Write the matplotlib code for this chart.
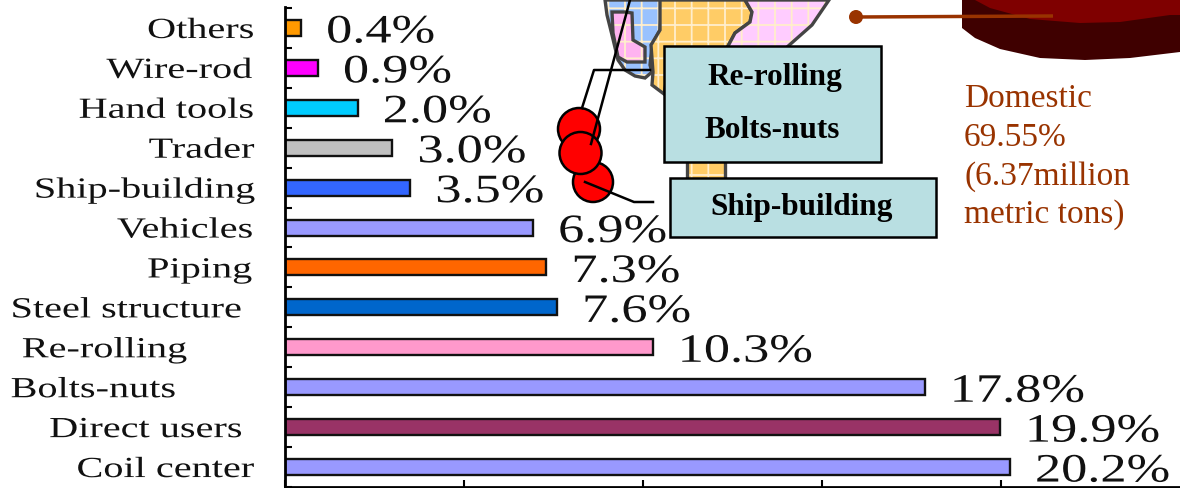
import matplotlib
matplotlib.use('Agg')
import numpy as np
import matplotlib.pyplot as plt
from matplotlib.patches import Polygon, Circle, Rectangle
from matplotlib.patheffects import AbstractPathEffect
from matplotlib.transforms import Affine2D

# top to bottom
categories = ['Others', 'Wire-rod', 'Hand tools', 'Trader', 'Ship-building', 'Vehicles',
              'Piping', 'Steel structure', 'Re-rolling', 'Bolts-nuts', 'Direct users', 'Coil center']
values = [0.45, 0.92, 2.03, 3.0, 3.5, 6.93, 7.3, 7.6, 10.27, 17.87, 19.97, 20.25]
value_labels = ['0.4%', '0.9%', '2.0%', '3.0%', '3.5%', '6.9%',
                '7.3%', '7.6%', '10.3%', '17.8%', '19.9%', '20.2%']
bar_colors = ['#ff9900', '#ff00ff', '#00ccff', '#c0c0c0', '#3366ff', '#9999ff',
              '#ff6600', '#0066cc', '#ff99cc', '#9999ff', '#993366', '#9999ff']
x_ticks = [0, 5, 10, 15, 20]

W, H = 1180, 488


class StretchX(AbstractPathEffect):
    # the labels in the original are squashed wide, so scale glyphs about their anchor
    def __init__(self, x0, sx):
        super().__init__()
        self.x0 = x0
        self.sx = sx

    def draw_path(self, renderer, gc, tpath, affine, rgbFace=None):
        wide = affine + Affine2D().translate(-self.x0, 0).scale(self.sx, 1).translate(self.x0, 0)
        renderer.draw_path(gc, tpath, wide, rgbFace)


fig = plt.figure(figsize=(W / 100, H / 100), dpi=100)
fig.patch.set_facecolor('white')

# overlay in pixel coords for the map bits, behind the chart
bg = fig.add_axes([0, 0, 1, 1])
bg.set_xlim(0, W)
bg.set_ylim(H, 0)
bg.axis('off')

ax = fig.add_axes([285 / W, 1 / H, (W - 285) / W, 480 / H])
ax.patch.set_alpha(0)
ax.barh(range(len(values)), values, height=0.4, color=bar_colors, edgecolor='#111111', linewidth=1.7)
ax.set_xlim(0, 25)
ax.set_ylim(11.475, -0.525)
ax.set_xticks(x_ticks)
ax.set_xticklabels([])
ax.set_yticks(np.arange(-0.5, 12, 1))
ax.set_yticklabels([])
ax.tick_params(axis='both', direction='in', length=5, width=1.5)
for s in ['top', 'right']:
    ax.spines[s].set_visible(False)
for s in ['left', 'bottom']:
    ax.spines[s].set_linewidth(2)

label_font = 'Liberation Serif'
label_right = [254, 252, 254, 254, 255, 253, 252, 241, 187, 176, 242, 254]
for i, c in enumerate(categories):
    t = ax.annotate(c, xy=(0, i), xytext=(label_right[i] - 285, -3), textcoords='offset pixels',
                    ha='right', va='center', fontsize=21, family=label_font, color='#111111',
                    annotation_clip=False)
    t.set_path_effects([StretchX(label_right[i], 1.38)])
for i, v in enumerate(values):
    t = ax.annotate(value_labels[i], xy=(v, i), xytext=(25, -5), textcoords='offset pixels',
                    ha='left', va='center', fontsize=29, family=label_font, color='#111111',
                    annotation_clip=False)
    t.set_path_effects([StretchX(ax.transData.transform((v, i))[0] + 25, 1.3)])

# map pieces
blue = [(605, 0), (662, 0), (660, 30), (652, 45), (650, 65), (652, 72), (645, 78), (635, 76),
        (625, 70), (618, 60), (612, 35), (607, 15)]
pink_l = [(612, 12), (625, 12), (632, 13), (633, 40), (645, 47), (645, 62), (627, 62), (618, 57), (613, 33)]
orange = [(660, 0), (745, 0), (752, 12), (750, 22), (735, 33), (727, 48), (670, 60), (664, 94),
          (652, 85), (653, 72), (651, 45), (660, 30)]
pink_r = [(745, 0), (829, 0), (812, 25), (786, 48), (727, 48), (735, 33), (750, 22), (752, 12)]
orange_low = [(687, 160), (725, 160), (725, 180), (687, 180)]
plt.rcParams['hatch.linewidth'] = 1.3
for pts, col in [(blue, '#99c2ff'), (orange, '#ffcc66'), (pink_r, '#ffccff'), (pink_l, '#ffb3f0'),
                 (orange_low, '#ffcc66')]:
    bg.add_patch(Polygon(pts, closed=True, facecolor=col, edgecolor='#ffeecc', hatch='+', lw=0))
    bg.add_patch(Polygon(pts, closed=True, fill=False, edgecolor='#444444', lw=2.4))

# pie slice top right
bg.add_patch(Polygon([(962, 0), (962, 28), (975, 38), (1000, 49), (1040, 58), (1085, 60), (1130, 58),
                      (1180, 52), (1180, 0)], closed=True, facecolor='#3f0000', lw=0))
bg.add_patch(Polygon([(975, 0), (990, 8), (1030, 19), (1080, 23), (1120, 22), (1170, 15), (1180, 15),
                      (1180, 0)], closed=True, facecolor='#7f0000', lw=0))
bg.plot([856, 1053], [17, 16], color='#993300', lw=2.5, solid_capstyle='butt')
bg.add_patch(Circle((856, 17), 7, facecolor='#993300', lw=0))

# overlay on top for callouts
fg = fig.add_axes([0, 0, 1, 1])
fg.set_xlim(0, W)
fg.set_ylim(H, 0)
fg.axis('off')
fg.patch.set_alpha(0)

for xy, r in [((593, 182), 20), ((579, 129), 21), ((580.5, 153), 21)]:
    fg.add_patch(Circle(xy, r, facecolor='#ff0000', edgecolor='black', lw=1.8))
fg.plot([582, 594, 650], [108, 70, 70], color='black', lw=1.8)
fg.plot([591, 630], [144, 0], color='black', lw=1.8)
fg.plot([585, 634, 653], [182, 202, 202], color='black', lw=1.8)

fg.add_patch(Rectangle((664, 46), 217, 116, facecolor='#b9dfe2', edgecolor='black', lw=1.8))
fg.add_patch(Rectangle((670, 178), 266, 59, facecolor='#b9dfe2', edgecolor='black', lw=1.8))
box_font = 'Liberation Serif'
fg.text(775, 78, 'Re-rolling', ha='center', va='center', fontsize=22.5, fontweight='bold', family=box_font)
fg.text(772, 130, 'Bolts-nuts', ha='center', va='center', fontsize=22.5, fontweight='bold', family=box_font)
fg.text(802, 208, 'Ship-building', ha='center', va='center', fontsize=22.5, fontweight='bold', family=box_font)

for y, t in zip([99, 138, 177, 215], ['Domestic', '69.55%', '(6.37million', 'metric tons)']):
    fg.text(964, y, t, ha='left', va='center', fontsize=24, family=box_font, color='#993300')

fig.savefig('out.png', dpi=100)
